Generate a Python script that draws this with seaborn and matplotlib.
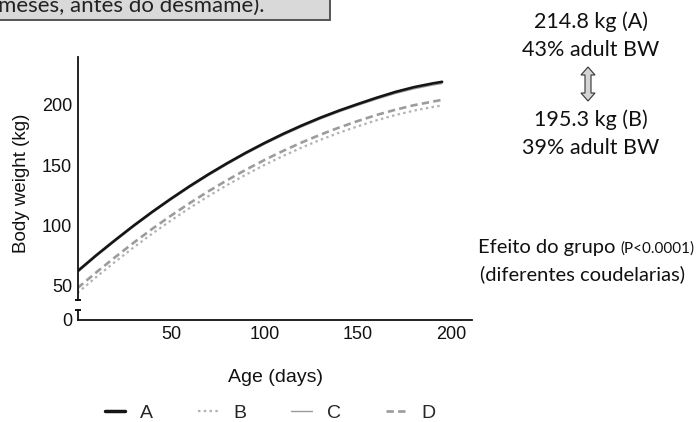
import matplotlib
matplotlib.use("Agg")
import matplotlib.pyplot as plt
from matplotlib.patches import Polygon, Rectangle
from matplotlib.lines import Line2D
import seaborn as sns
import pandas as pd

# ---- data ----
days = [0, 10, 20, 30, 40, 50, 60, 70, 80, 90, 100, 110, 120, 130, 140, 150, 160, 170, 180, 190, 195]
weight_A = [62.0, 75.2, 87.7, 99.8, 111.3, 122.2, 132.6, 142.4, 151.6, 160.3, 168.4, 176.0, 183.0,
            189.5, 195.4, 200.8, 206.0, 210.8, 214.8, 217.9, 219.2]
weight_B = [44.0, 57.1, 69.6, 81.7, 93.2, 104.1, 114.5, 124.3, 133.5, 142.1, 150.2, 157.7, 164.7,
            171.1, 177.0, 182.3, 187.3, 191.6, 195.3, 198.3, 199.6]
weight_C = [61.0, 74.3, 86.8, 98.9, 110.4, 121.3, 131.6, 141.4, 150.6, 159.3, 167.4, 174.9, 181.9,
            188.4, 194.3, 199.7, 204.8, 209.5, 213.4, 216.5, 217.8]
weight_D = [48.0, 61.0, 73.5, 85.6, 97.2, 108.1, 118.5, 128.3, 137.5, 146.2, 154.3, 161.9, 168.9,
            175.4, 181.3, 186.7, 191.7, 196.0, 199.8, 202.8, 204.2]
groups = ["A", "B", "C", "D"]
x_ticks = [50, 100, 150, 200]
y_ticks_top = [50, 100, 150, 200]

df = pd.DataFrame({
    "day": days * 4,
    "weight": weight_A + weight_B + weight_C + weight_D,
    "group": sum([[g] * len(days) for g in groups], []),
})

styles = {
    "A": dict(color="#151515", lw=1.9, ls="-"),
    "B": dict(color="#b2b2b2", lw=1.6, ls=(0, (1.1, 1.5))),
    "C": dict(color="#9a9a9a", lw=1.0, ls="-"),
    "D": dict(color="#9c9c9c", lw=1.9, ls=(0, (2.8, 1.6))),
}

sns.set_style("white")
plt.rcParams["font.family"] = ["Liberation Sans", "DejaVu Sans"]

W, H = 700, 422
fig = plt.figure(figsize=(7.0, 4.22), dpi=100)

def fx(px):
    return px / W

def fy(py):
    return 1 - py / H

x0, x1 = 77.5, 472
ax = fig.add_axes([fx(x0), fy(300), fx(x1 - x0), fy(57) - fy(300)])
axb = fig.add_axes([fx(x0), fy(320), fx(x1 - x0), fy(310) - fy(320)])

# draw C first so A lies over it, as in the reference
for g in ["C", "B", "D", "A"]:
    st = styles[g]
    sns.lineplot(data=df[df["group"] == g], x="day", y="weight", ax=ax,
                 color=st["color"], linewidth=st["lw"], linestyle=st["ls"],
                 legend=False, zorder=3 if g == "A" else 2)

ax.set_xlim(0, 211)
ax.set_ylim(38.1, 239.8)
axb.set_xlim(0, 211)
axb.set_ylim(0, 8.3)

spine_w = 1.3
for a in (ax, axb):
    for s in ["top", "right"]:
        a.spines[s].set_visible(False)
    a.spines["left"].set_linewidth(spine_w)
    a.spines["left"].set_color("#111111")
    a.patch.set_alpha(0)
    a.set_xlabel("")
    a.set_ylabel("")
ax.spines["bottom"].set_visible(False)
ax.set_xticks([])
ax.set_yticks(y_ticks_top)
ax.set_yticklabels([str(v) for v in y_ticks_top])
axb.spines["bottom"].set_linewidth(spine_w)
axb.spines["bottom"].set_color("#111111")
axb.set_xticks(x_ticks)
axb.set_xticklabels([str(v) for v in x_ticks])
axb.set_yticks([0])
axb.set_yticklabels(["0"])
for a in (ax, axb):
    a.tick_params(axis="both", direction="out", length=3, width=spine_w, color="#111111",
                  labelsize=13, pad=1.0, labelcolor="#111111")
axb.tick_params(axis="x", pad=1.0)

# axis break caps
ax.plot([0], [0], transform=ax.transAxes, marker="_", ms=5, mew=1.4, color="#111111", clip_on=False)
axb.plot([0], [1], transform=axb.transAxes, marker="_", ms=5, mew=1.4, color="#111111", clip_on=False)

fig.text(fx(22), fy(183), "Body weight (kg)", rotation=90, ha="center", va="center",
         fontsize=13.5, color="#111111")
fig.text(fx(275), fy(377), "Age (days)", ha="center", va="center", fontsize=14, color="#111111")

handles = [Line2D([0], [0], color=styles[g]["color"], lw=styles[g]["lw"] + (0.6 if g == "A" else 0),
                  ls=styles[g]["ls"]) for g in groups]
fig.legend(handles, groups, loc="center", bbox_to_anchor=(fx(270), fy(413)), ncol=4, frameon=False,
           fontsize=14, handlelength=1.06, handletextpad=0.77, columnspacing=2.3,
           borderpad=0, borderaxespad=0)

# top-left caption box (cut off by the image edge)
fig.patches.append(Rectangle((fx(-5), fy(20)), fx(335), fy(-30) - fy(20), transform=fig.transFigure,
                             facecolor="#d9d9d9", edgecolor="#4a4a4a", lw=1.3))
fig.text(fx(-2), fy(12), "meses, antes do desmame).", ha="left", va="baseline",
         fontsize=16, family=["Lato", "DejaVu Sans"], color="#222222")

# right-hand annotations
rfont = ["Lato", "DejaVu Sans"]
for txt, yy in [("214.8 kg (A)", 22), ("43% adult BW", 50), ("195.3 kg (B)", 120), ("39% adult BW", 148)]:
    fig.text(fx(591), fy(yy), txt, ha="center", va="center", fontsize=15.5, family=rfont, color="#111111")

t1 = fig.text(fx(478), fy(253), "Efeito do grupo ", ha="left", va="baseline", fontsize=14.5,
              family=rfont, color="#111111")
fig.canvas.draw()
bb = t1.get_window_extent()
fig.text(bb.x1 / fig.dpi / fig.get_figwidth(), fy(253), "(P<0.0001)", ha="left", va="baseline",
         fontsize=11, family=rfont, color="#111111")
fig.text(fx(583), fy(274), "(diferentes coudelarias)", ha="center", va="center", fontsize=14.5,
         family=rfont, color="#111111")

# hollow double arrow
cx, ytop, ybot = 588, 67, 101
pts = [(cx, ytop), (cx + 7, ytop + 8), (cx + 3, ytop + 8), (cx + 3, ybot - 8), (cx + 7, ybot - 8),
       (cx, ybot), (cx - 7, ybot - 8), (cx - 3, ybot - 8), (cx - 3, ytop + 8), (cx - 7, ytop + 8)]
fig.patches.append(Polygon([(fx(px), fy(py)) for px, py in pts], closed=True, transform=fig.transFigure,
                           facecolor="#d4d4d4", edgecolor="#333333", lw=0.8))

fig.savefig("out.png", dpi=100)
